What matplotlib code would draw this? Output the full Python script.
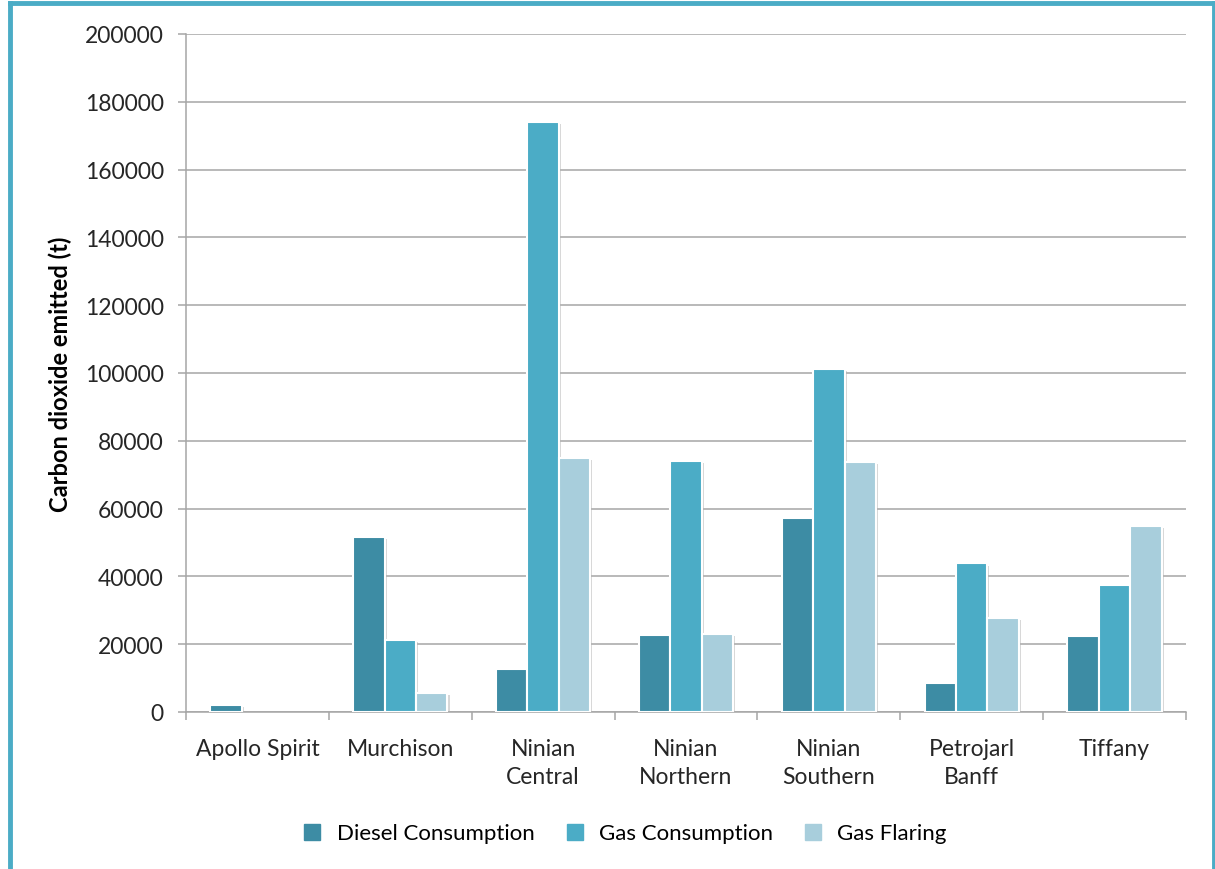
import numpy as np
import matplotlib.pyplot as plt
from matplotlib import patheffects as pe
from matplotlib.lines import Line2D

# data
platforms = ['Apollo Spirit', 'Murchison', 'Ninian\nCentral', 'Ninian\nNorthern',
             'Ninian\nSouthern', 'Petrojarl\nBanff', 'Tiffany']
diesel = [2000, 51500, 12700, 22700, 57200, 8600, 22400]
gas_cons = [0, 21200, 174000, 74000, 101300, 43800, 37500]
flaring = [0, 5600, 75000, 23000, 73700, 27600, 55000]
series_names = ['Diesel Consumption', 'Gas Consumption', 'Gas Flaring']
colors = ['#3D8CA4', '#4BACC6', '#A8CEDC']

plt.rcParams['font.family'] = ['Lato', 'DejaVu Sans']

fig = plt.figure(figsize=(12.15, 8.7), dpi=100)
ax = fig.add_axes([0.1531, 0.1805, 0.8230, 0.7793])

x = np.arange(len(platforms))
w = 0.22
shadow = [pe.SimplePatchShadow(offset=(1.5, -1.5), shadow_rgbFace='#b0b0b0', alpha=0.5), pe.Normal()]
for i, (vals, c) in enumerate(zip([diesel, gas_cons, flaring], colors)):
    bars = ax.bar(x + (i - 1) * w, vals, width=w, color=c, edgecolor='white',
                  linewidth=1.5, label=series_names[i], zorder=3)
    for b in bars:
        if b.get_height() > 0:
            b.set_path_effects(shadow)
        else:
            b.set_visible(False)

ax.set_xlim(-0.5, len(platforms) - 0.5)
ax.set_ylim(0, 200000)
ax.set_yticks(np.arange(0, 200001, 20000))
ax.set_yticklabels([str(v) for v in range(0, 200001, 20000)], fontsize=16.5, color='#262626')
ax.yaxis.grid(True, color='#a6a6a6', linewidth=1.1, zorder=0)
ax.set_axisbelow(True)

# boundaries as major ticks, names as minor ticks
ax.set_xticks(np.arange(-0.5, len(platforms), 1.0))
ax.set_xticklabels([])
ax.set_xticks(x, minor=True)
ax.set_xticklabels(platforms, minor=True, fontsize=16.5, color='#262626', linespacing=1.4)
ax.tick_params(axis='x', which='minor', length=0, pad=19)
ax.tick_params(axis='x', which='major', length=6, color='#a6a6a6', width=1.1)
ax.tick_params(axis='y', length=6, color='#a6a6a6', width=1.1, pad=10)

for s in ['top', 'right']:
    ax.spines[s].set_visible(False)
for s in ['left', 'bottom']:
    ax.spines[s].set_color('#a6a6a6')
    ax.spines[s].set_linewidth(1.1)

ax.set_ylabel('Carbon dioxide emitted (t)', fontsize=17, fontweight='bold', labelpad=9)

handles = [Line2D([0], [0], marker='s', linestyle='none', markersize=11,
                  markerfacecolor=c, markeredgecolor=c) for c in colors]
fig.legend(handles, series_names, loc='center', bbox_to_anchor=(0.509, 0.041), ncol=3,
           frameon=False, fontsize=16, handletextpad=0.1, columnspacing=0.8)

# teal frame around the chart
frame = '#4BACC6'
fig.add_artist(Line2D([0.0082, 0.0082], [0, 0.995], color=frame, linewidth=3.5, transform=fig.transFigure))
fig.add_artist(Line2D([0.0082, 0.999], [0.995, 0.995], color=frame, linewidth=3.5, transform=fig.transFigure))
fig.add_artist(Line2D([0.999, 0.999], [0, 0.995], color=frame, linewidth=3.5, transform=fig.transFigure))

fig.savefig('out.png', dpi=100, facecolor='white')
